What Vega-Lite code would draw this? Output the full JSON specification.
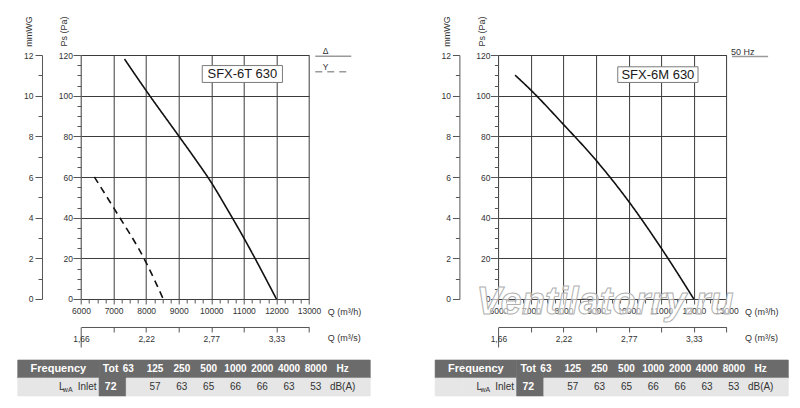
{
  "$schema": "https://vega.github.io/schema/vega-lite/v6.json",
  "background": "white",
  "padding": {"left": 16.7, "top": 15, "right": 0, "bottom": 0},
  "config": {
    "font": "Liberation Sans",
    "view": {"stroke": null},
    "text": {"font": "Liberation Sans"},
    "axis": {
      "labelFont": "Liberation Sans", "labelFontSize": 8.5, "labelColor": "#333",
      "titleFont": "Liberation Sans", "titleFontSize": 9, "titleFontWeight": "normal", "titleColor": "#333",
      "tickColor": "#555", "domainColor": "#555", "gridColor": "#3a3a3a", "gridWidth": 1,
      "labelOverlap": false, "labelFlush": false, "labelBound": false
    },
    "legend": {"labelFont": "Liberation Sans", "labelFontSize": 9, "labelColor": "#333"}
  },
  "resolve": {"scale": {"strokeDash": "independent"}, "legend": {"strokeDash": "independent"}},
  "spacing": 63.4,
  "hconcat": [
    {
      "spacing": 11,
      "vconcat": [
        {
          "width": 291.3, "height": 244,
          "layer": [
            {
              "data": {"values": [{}]},
              "mark": {"type": "rect", "fill": "white", "stroke": "#7a7a7a", "strokeWidth": 1},
              "encoding": {
                "x": {"datum": 9723, "type": "quantitative",
                  "axis": {"orient": "bottom", "offset": 28, "values": [6000,7000,8000,9000,10000,11000,12000,13000], "format": "d",
                    "labelExpr": "datum.value === 6000 ? '1,66' : datum.value === 8000 ? '2,22' : datum.value === 10000 ? '2,77' : datum.value === 12000 ? '3,33' : ''",
                    "tickSize": {"condition": {"test": "datum.value === 6000", "value": 20}, "value": 5},
                    "labelPadding": {"condition": {"test": "datum.value === 6000", "value": -12}, "value": 3},
                    "grid": false, "domain": true,
                    "title": "Q (m³/s)", "titleX": 309.5, "titleY": 11, "titleAlign": "left", "titleBaseline": "middle", "titleAngle": 0}},
                "x2": {"datum": 12185},
                "y": {"datum": 114.8, "type": "quantitative",
                  "axis": {"orient": "left", "offset": -24.3, "values": [0,10,20,30,40,50,60,70,80,90,100,110,120],
                    "labelExpr": "datum.value % 20 === 0 ? format(datum.value / 10, 'd') : ''",
                    "tickSize": {"condition": {"test": "datum.value % 20 === 0", "value": 7}, "value": 4},
                    "grid": false, "domain": true, "labelPadding": 2,
                    "title": "mmWG", "titleAngle": 270, "titleX": -13.3, "titleY": -24, "titleAlign": "center", "titleBaseline": "middle"}},
                "y2": {"datum": 106.5}
              }
            },
            {
              "data": {"values": [
                {"conn": "Δ", "Q": 7336, "Ps": 118},
                {"conn": "Δ", "Q": 8000, "Ps": 102.5},
                {"conn": "Δ", "Q": 9000, "Ps": 80.2},
                {"conn": "Δ", "Q": 9500, "Ps": 69},
                {"conn": "Δ", "Q": 10000, "Ps": 57.3},
                {"conn": "Δ", "Q": 10500, "Ps": 43.9},
                {"conn": "Δ", "Q": 11000, "Ps": 30},
                {"conn": "Δ", "Q": 12000, "Ps": 0},
                {"conn": "Y", "Q": 6411, "Ps": 60},
                {"conn": "Y", "Q": 7000, "Ps": 44.9},
                {"conn": "Y", "Q": 8000, "Ps": 17.9},
                {"conn": "Y", "Q": 8525, "Ps": 0}
              ]},
              "mark": {"type": "line", "interpolate": "monotone", "strokeWidth": 1.6, "color": "#111"},
              "encoding": {
                "x": {"field": "Q", "type": "quantitative", "scale": {"domain": [6000, 13000], "range": [63.3, 291.3], "nice": false, "zero": false},
                  "axis": {"orient": "bottom", "values": [6000,6250,6500,6750,7000,7250,7500,7750,8000,8250,8500,8750,9000,9250,9500,9750,10000,10250,10500,10750,11000,11250,11500,11750,12000,12250,12500,12750,13000],
                    "format": "d", "labelExpr": "datum.value % 1000 === 0 ? datum.label : ''",
                    "tickSize": {"condition": {"test": "datum.value % 1000 === 0", "value": 5}, "value": 4},
                    "grid": true, "gridOpacity": {"condition": {"test": "datum.value % 1000 === 0", "value": 1}, "value": 0},
                    "domain": false, "labelPadding": 3,
                    "title": "Q (m³/h)", "titleX": 309.5, "titleY": 13, "titleAlign": "left", "titleBaseline": "middle", "titleAngle": 0}},
                "y": {"field": "Ps", "type": "quantitative", "scale": {"domain": [0, 120], "nice": false},
                  "axis": {"orient": "left", "offset": -63.3, "values": [0,5,10,15,20,25,30,35,40,45,50,55,60,65,70,75,80,85,90,95,100,105,110,115,120],
                    "format": "d", "labelExpr": "datum.value % 20 === 0 ? datum.label : ''",
                    "tickSize": {"condition": {"test": "datum.value % 20 === 0", "value": 8}, "value": 4},
                    "grid": true, "gridOpacity": {"condition": {"test": "datum.value % 20 === 0", "value": 1}, "value": 0},
                    "domain": false, "labelPadding": 0.5,
                    "title": "Ps (Pa)", "titleAngle": 270, "titleX": -17, "titleY": -24, "titleAlign": "center", "titleBaseline": "middle"}},
                "strokeDash": {"field": "conn", "type": "nominal", "scale": {"domain": ["Δ", "Y"], "range": [[1, 0], [7, 5]]},
                  "legend": {"orient": "none", "legendX": 311.3, "legendY": -3, "title": null, "padding": 0,
                    "symbolType": "M-18,0H18", "symbolSize": 4, "symbolStrokeColor": "#9a9a9a", "symbolStrokeWidth": 1.3,
                    "labelAlign": "center", "labelOffset": -12, "labelBaseline": "bottom", "labelFontSize": 8.5, "rowPadding": 3.5}}
              }
            },
            {
              "data": {"values": [{}]},
              "mark": {"type": "text", "fontSize": 13, "color": "#1a1a1a"},
              "encoding": {
                "x": {"datum": 10954, "type": "quantitative", "axis": null},
                "y": {"datum": 110.7, "type": "quantitative", "axis": null},
                "text": {"value": "SFX-6T 630"}
              }
            }
          ],
          "resolve": {"axis": {"x": "independent", "y": "independent"}}
        },
        {
          "width": 352.6, "height": 36,
          "layer": [
            {
              "layer": [
                {
                  "data": {"values": [
                    {"row": "hdr", "col": "L1", "shade": "dark"}, {"row": "hdr", "col": "L2", "shade": "dark"}, {"row": "hdr", "col": "L3", "shade": "dark"},
                    {"row": "hdr", "col": "Tot", "shade": "dark"}, {"row": "hdr", "col": "63", "shade": "dark"}, {"row": "hdr", "col": "125", "shade": "dark"},
                    {"row": "hdr", "col": "250", "shade": "dark"}, {"row": "hdr", "col": "500", "shade": "dark"}, {"row": "hdr", "col": "1000", "shade": "dark"},
                    {"row": "hdr", "col": "2000", "shade": "dark"}, {"row": "hdr", "col": "4000", "shade": "dark"}, {"row": "hdr", "col": "8000", "shade": "dark"},
                    {"row": "hdr", "col": "Hz", "shade": "dark"},
                    {"row": "body", "col": "L1", "shade": "light"}, {"row": "body", "col": "L2", "shade": "light"}, {"row": "body", "col": "L3", "shade": "light"},
                    {"row": "body", "col": "Tot", "shade": "dark"}, {"row": "body", "col": "63", "shade": "light"}, {"row": "body", "col": "125", "shade": "light"},
                    {"row": "body", "col": "250", "shade": "light"}, {"row": "body", "col": "500", "shade": "light"}, {"row": "body", "col": "1000", "shade": "light"},
                    {"row": "body", "col": "2000", "shade": "light"}, {"row": "body", "col": "4000", "shade": "light"}, {"row": "body", "col": "8000", "shade": "light"},
                    {"row": "body", "col": "Hz", "shade": "light"}
                  ]},
                  "mark": {"type": "rect", "strokeWidth": 0.6},
                  "encoding": {
                    "x": {"field": "col", "type": "nominal", "axis": null, "scale": {"domain": ["L1","L2","L3","Tot","63","125","250","500","1000","2000","4000","8000","Hz"], "paddingInner": 0, "paddingOuter": 0}},
                    "y": {"field": "row", "type": "nominal", "axis": null, "scale": {"domain": ["hdr", "body"], "paddingInner": 0, "paddingOuter": 0}},
                    "fill": {"field": "shade", "type": "nominal", "legend": null, "scale": {"domain": ["dark", "light"], "range": ["#6b6b6b", "#e6e6e6"]}},
                    "stroke": {"field": "shade", "type": "nominal", "legend": null, "scale": {"domain": ["dark", "light"], "range": ["#6b6b6b", "#e6e6e6"]}}
                  }
                },
                {
                  "data": {"values": [{"row": "hdr", "col": "L2", "text": "Frequency"}]},
                  "mark": {"type": "text", "fontWeight": "bold", "fontSize": 11, "color": "white"},
                  "encoding": {
                    "x": {"field": "col", "type": "nominal", "axis": null},
                    "y": {"field": "row", "type": "nominal", "axis": null},
                    "text": {"field": "text"}
                  }
                },
                {
                  "data": {"values": [{"row": "hdr", "col": "Tot", "text": "Tot"}, {"row": "body", "col": "Tot", "text": "72"}]},
                  "mark": {"type": "text", "fontWeight": "bold", "fontSize": 10.5, "color": "white", "dx": -2},
                  "encoding": {
                    "x": {"field": "col", "type": "nominal", "axis": null},
                    "y": {"field": "row", "type": "nominal", "axis": null},
                    "text": {"field": "text"}
                  }
                },
                {
                  "data": {"values": [{}]},
                  "mark": {"type": "text", "fontSize": 10, "color": "#333", "align": "right", "dx": -2.5},
                  "encoding": {"x": {"datum": "L3", "type": "nominal", "bandPosition": 1, "axis": null}, "y": {"datum": "body", "type": "nominal", "axis": null}, "text": {"value": "Inlet"}}
                },
                {
                  "data": {"values": [{}]},
                  "mark": {"type": "text", "fontSize": 7, "color": "#333", "align": "right", "dx": -26.5, "dy": 3},
                  "encoding": {"x": {"datum": "L3", "type": "nominal", "bandPosition": 1, "axis": null}, "y": {"datum": "body", "type": "nominal", "axis": null}, "text": {"value": "wA"}}
                },
                {
                  "data": {"values": [{}]},
                  "mark": {"type": "text", "fontSize": 10, "color": "#333", "align": "right", "dx": -34.5},
                  "encoding": {"x": {"datum": "L3", "type": "nominal", "bandPosition": 1, "axis": null}, "y": {"datum": "body", "type": "nominal", "axis": null}, "text": {"value": "L"}}
                }
              ]
            },
            {
              "data": {"values": [
                {"freq": "63", "level": ""}, {"freq": "125", "level": "57"}, {"freq": "250", "level": "63"},
                {"freq": "500", "level": "65"}, {"freq": "1000", "level": "66"}, {"freq": "2000", "level": "66"},
                {"freq": "4000", "level": "63"}, {"freq": "8000", "level": "53"}, {"freq": "Hz", "level": "dB(A)"}
              ]},
              "layer": [
                {
                  "mark": {"type": "text", "fontWeight": "bold", "fontSize": 10, "color": "white"},
                  "encoding": {
                    "x": {"field": "freq", "type": "nominal", "axis": null, "scale": {"type": "point", "domain": ["p1","p2","p3","p4","63","125","250","500","1000","2000","4000","8000","Hz"], "padding": 0.579, "align": 0.109}},
                    "y": {"datum": "hdr", "type": "nominal", "axis": null},
                    "text": {"field": "freq"}
                  }
                },
                {
                  "mark": {"type": "text", "fontSize": 10, "color": "#333"},
                  "encoding": {
                    "x": {"field": "freq", "type": "nominal", "axis": null},
                    "y": {"datum": "body", "type": "nominal", "axis": null},
                    "text": {"field": "level"}
                  }
                }
              ]
            }
          ],
          "resolve": {"scale": {"x": "independent"}}
        }
      ]
    },
    {
      "spacing": 11,
      "vconcat": [
        {
          "width": 291.3, "height": 244,
          "layer": [
            {
              "data": {"values": [{}]},
              "mark": {"type": "rect", "fill": "white", "stroke": "#7a7a7a", "strokeWidth": 1},
              "encoding": {
                "x": {"datum": 9665, "type": "quantitative",
                  "axis": {"orient": "bottom", "offset": 28, "values": [6000,7000,8000,9000,10000,11000,12000,13000], "format": "d",
                    "labelExpr": "datum.value === 6000 ? '1,66' : datum.value === 8000 ? '2,22' : datum.value === 10000 ? '2,77' : datum.value === 12000 ? '3,33' : ''",
                    "tickSize": {"condition": {"test": "datum.value === 6000", "value": 20}, "value": 5},
                    "labelPadding": {"condition": {"test": "datum.value === 6000", "value": -12}, "value": 3},
                    "grid": false, "domain": true,
                    "title": "Q (m³/s)", "titleX": 309.5, "titleY": 11, "titleAlign": "left", "titleBaseline": "middle", "titleAngle": 0}},
                "x2": {"datum": 12129},
                "y": {"datum": 114.2, "type": "quantitative",
                  "axis": {"orient": "left", "offset": -24.3, "values": [0,10,20,30,40,50,60,70,80,90,100,110,120],
                    "labelExpr": "datum.value % 20 === 0 ? format(datum.value / 10, 'd') : ''",
                    "tickSize": {"condition": {"test": "datum.value % 20 === 0", "value": 7}, "value": 4},
                    "grid": false, "domain": true, "labelPadding": 2,
                    "title": "mmWG", "titleAngle": 270, "titleX": -13.3, "titleY": -24, "titleAlign": "center", "titleBaseline": "middle"}},
                "y2": {"datum": 106.5}
              }
            },
            {
              "data": {"values": [
                {"supply": "50 Hz", "Q": 6513, "Ps": 110.1},
                {"supply": "50 Hz", "Q": 7000, "Ps": 102.7},
                {"supply": "50 Hz", "Q": 8000, "Ps": 85.8},
                {"supply": "50 Hz", "Q": 9000, "Ps": 68.2},
                {"supply": "50 Hz", "Q": 10000, "Ps": 48},
                {"supply": "50 Hz", "Q": 11000, "Ps": 25},
                {"supply": "50 Hz", "Q": 12000, "Ps": 0}
              ]},
              "mark": {"type": "line", "interpolate": "monotone", "strokeWidth": 1.6, "color": "#111"},
              "encoding": {
                "x": {"field": "Q", "type": "quantitative", "scale": {"domain": [6000, 13000], "range": [63.3, 291.3], "nice": false, "zero": false},
                  "axis": {"orient": "bottom", "values": [6000,6250,6500,6750,7000,7250,7500,7750,8000,8250,8500,8750,9000,9250,9500,9750,10000,10250,10500,10750,11000,11250,11500,11750,12000,12250,12500,12750,13000],
                    "format": "d", "labelExpr": "datum.value % 1000 === 0 ? datum.label : ''",
                    "tickSize": {"condition": {"test": "datum.value % 1000 === 0", "value": 5}, "value": 4},
                    "grid": true, "gridOpacity": {"condition": {"test": "datum.value % 1000 === 0", "value": 1}, "value": 0},
                    "domain": false, "labelPadding": 3,
                    "title": "Q (m³/h)", "titleX": 309.5, "titleY": 13, "titleAlign": "left", "titleBaseline": "middle", "titleAngle": 0}},
                "y": {"field": "Ps", "type": "quantitative", "scale": {"domain": [0, 120], "nice": false},
                  "axis": {"orient": "left", "offset": -63.3, "values": [0,5,10,15,20,25,30,35,40,45,50,55,60,65,70,75,80,85,90,95,100,105,110,115,120],
                    "format": "d", "labelExpr": "datum.value % 20 === 0 ? datum.label : ''",
                    "tickSize": {"condition": {"test": "datum.value % 20 === 0", "value": 8}, "value": 4},
                    "grid": true, "gridOpacity": {"condition": {"test": "datum.value % 20 === 0", "value": 1}, "value": 0},
                    "domain": false, "labelPadding": 0.5,
                    "title": "Ps (Pa)", "titleAngle": 270, "titleX": -17, "titleY": -24, "titleAlign": "center", "titleBaseline": "middle"}},
                "strokeDash": {"field": "supply", "type": "nominal", "scale": {"domain": ["50 Hz"], "range": [[1, 0]]},
                  "legend": {"orient": "none", "legendX": 310.5, "legendY": -3, "title": null, "padding": 0,
                    "symbolType": "M-18,0H18", "symbolSize": 4, "symbolStrokeColor": "#9a9a9a", "symbolStrokeWidth": 1.3,
                    "labelAlign": "left", "labelOffset": -23.5, "labelBaseline": "bottom", "labelFontSize": 9}}
              }
            },
            {
              "data": {"values": [{}]},
              "mark": {"type": "text", "fontSize": 13, "color": "#1a1a1a"},
              "encoding": {
                "x": {"datum": 10897, "type": "quantitative", "axis": null},
                "y": {"datum": 110.3, "type": "quantitative", "axis": null},
                "text": {"value": "SFX-6M 630"}
              }
            },
            {
              "data": {"values": [{}]},
              "mark": {"type": "text", "fontSize": 38, "fontWeight": "bold", "fontStyle": "italic", "fill": "white", "fillOpacity": 0.55, "stroke": "#b0b0b0", "strokeWidth": 1, "baseline": "middle"},
              "encoding": {
                "x": {"datum": 9274, "type": "quantitative", "axis": null},
                "y": {"datum": -2, "type": "quantitative", "axis": null},
                "text": {"value": "Ventilatorry.ru"}
              }
            }
          ],
          "resolve": {"axis": {"x": "independent", "y": "independent"}}
        },
        {
          "width": 353.3, "height": 36,
          "layer": [
            {
              "layer": [
                {
                  "data": {"values": [
                    {"row": "hdr", "col": "L1", "shade": "dark"}, {"row": "hdr", "col": "L2", "shade": "dark"}, {"row": "hdr", "col": "L3", "shade": "dark"},
                    {"row": "hdr", "col": "Tot", "shade": "dark"}, {"row": "hdr", "col": "63", "shade": "dark"}, {"row": "hdr", "col": "125", "shade": "dark"},
                    {"row": "hdr", "col": "250", "shade": "dark"}, {"row": "hdr", "col": "500", "shade": "dark"}, {"row": "hdr", "col": "1000", "shade": "dark"},
                    {"row": "hdr", "col": "2000", "shade": "dark"}, {"row": "hdr", "col": "4000", "shade": "dark"}, {"row": "hdr", "col": "8000", "shade": "dark"},
                    {"row": "hdr", "col": "Hz", "shade": "dark"},
                    {"row": "body", "col": "L1", "shade": "light"}, {"row": "body", "col": "L2", "shade": "light"}, {"row": "body", "col": "L3", "shade": "light"},
                    {"row": "body", "col": "Tot", "shade": "dark"}, {"row": "body", "col": "63", "shade": "light"}, {"row": "body", "col": "125", "shade": "light"},
                    {"row": "body", "col": "250", "shade": "light"}, {"row": "body", "col": "500", "shade": "light"}, {"row": "body", "col": "1000", "shade": "light"},
                    {"row": "body", "col": "2000", "shade": "light"}, {"row": "body", "col": "4000", "shade": "light"}, {"row": "body", "col": "8000", "shade": "light"},
                    {"row": "body", "col": "Hz", "shade": "light"}
                  ]},
                  "mark": {"type": "rect", "strokeWidth": 0.6},
                  "encoding": {
                    "x": {"field": "col", "type": "nominal", "axis": null, "scale": {"domain": ["L1","L2","L3","Tot","63","125","250","500","1000","2000","4000","8000","Hz"], "paddingInner": 0, "paddingOuter": 0}},
                    "y": {"field": "row", "type": "nominal", "axis": null, "scale": {"domain": ["hdr", "body"], "paddingInner": 0, "paddingOuter": 0}},
                    "fill": {"field": "shade", "type": "nominal", "legend": null, "scale": {"domain": ["dark", "light"], "range": ["#6b6b6b", "#e6e6e6"]}},
                    "stroke": {"field": "shade", "type": "nominal", "legend": null, "scale": {"domain": ["dark", "light"], "range": ["#6b6b6b", "#e6e6e6"]}}
                  }
                },
                {
                  "data": {"values": [{"row": "hdr", "col": "L2", "text": "Frequency"}]},
                  "mark": {"type": "text", "fontWeight": "bold", "fontSize": 11, "color": "white"},
                  "encoding": {
                    "x": {"field": "col", "type": "nominal", "axis": null},
                    "y": {"field": "row", "type": "nominal", "axis": null},
                    "text": {"field": "text"}
                  }
                },
                {
                  "data": {"values": [{"row": "hdr", "col": "Tot", "text": "Tot"}, {"row": "body", "col": "Tot", "text": "72"}]},
                  "mark": {"type": "text", "fontWeight": "bold", "fontSize": 10.5, "color": "white", "dx": -2},
                  "encoding": {
                    "x": {"field": "col", "type": "nominal", "axis": null},
                    "y": {"field": "row", "type": "nominal", "axis": null},
                    "text": {"field": "text"}
                  }
                },
                {
                  "data": {"values": [{}]},
                  "mark": {"type": "text", "fontSize": 10, "color": "#333", "align": "right", "dx": -2.5},
                  "encoding": {"x": {"datum": "L3", "type": "nominal", "bandPosition": 1, "axis": null}, "y": {"datum": "body", "type": "nominal", "axis": null}, "text": {"value": "Inlet"}}
                },
                {
                  "data": {"values": [{}]},
                  "mark": {"type": "text", "fontSize": 7, "color": "#333", "align": "right", "dx": -26.5, "dy": 3},
                  "encoding": {"x": {"datum": "L3", "type": "nominal", "bandPosition": 1, "axis": null}, "y": {"datum": "body", "type": "nominal", "axis": null}, "text": {"value": "wA"}}
                },
                {
                  "data": {"values": [{}]},
                  "mark": {"type": "text", "fontSize": 10, "color": "#333", "align": "right", "dx": -34.5},
                  "encoding": {"x": {"datum": "L3", "type": "nominal", "bandPosition": 1, "axis": null}, "y": {"datum": "body", "type": "nominal", "axis": null}, "text": {"value": "L"}}
                }
              ]
            },
            {
              "data": {"values": [
                {"freq": "63", "level": ""}, {"freq": "125", "level": "57"}, {"freq": "250", "level": "63"},
                {"freq": "500", "level": "65"}, {"freq": "1000", "level": "66"}, {"freq": "2000", "level": "66"},
                {"freq": "4000", "level": "63"}, {"freq": "8000", "level": "53"}, {"freq": "Hz", "level": "dB(A)"}
              ]},
              "layer": [
                {
                  "mark": {"type": "text", "fontWeight": "bold", "fontSize": 10, "color": "white"},
                  "encoding": {
                    "x": {"field": "freq", "type": "nominal", "axis": null, "scale": {"type": "point", "domain": ["p1","p2","p3","p4","63","125","250","500","1000","2000","4000","8000","Hz"], "padding": 0.579, "align": 0.109}},
                    "y": {"datum": "hdr", "type": "nominal", "axis": null},
                    "text": {"field": "freq"}
                  }
                },
                {
                  "mark": {"type": "text", "fontSize": 10, "color": "#333"},
                  "encoding": {
                    "x": {"field": "freq", "type": "nominal", "axis": null},
                    "y": {"datum": "body", "type": "nominal", "axis": null},
                    "text": {"field": "level"}
                  }
                }
              ]
            }
          ],
          "resolve": {"scale": {"x": "independent"}}
        }
      ]
    }
  ]
}
